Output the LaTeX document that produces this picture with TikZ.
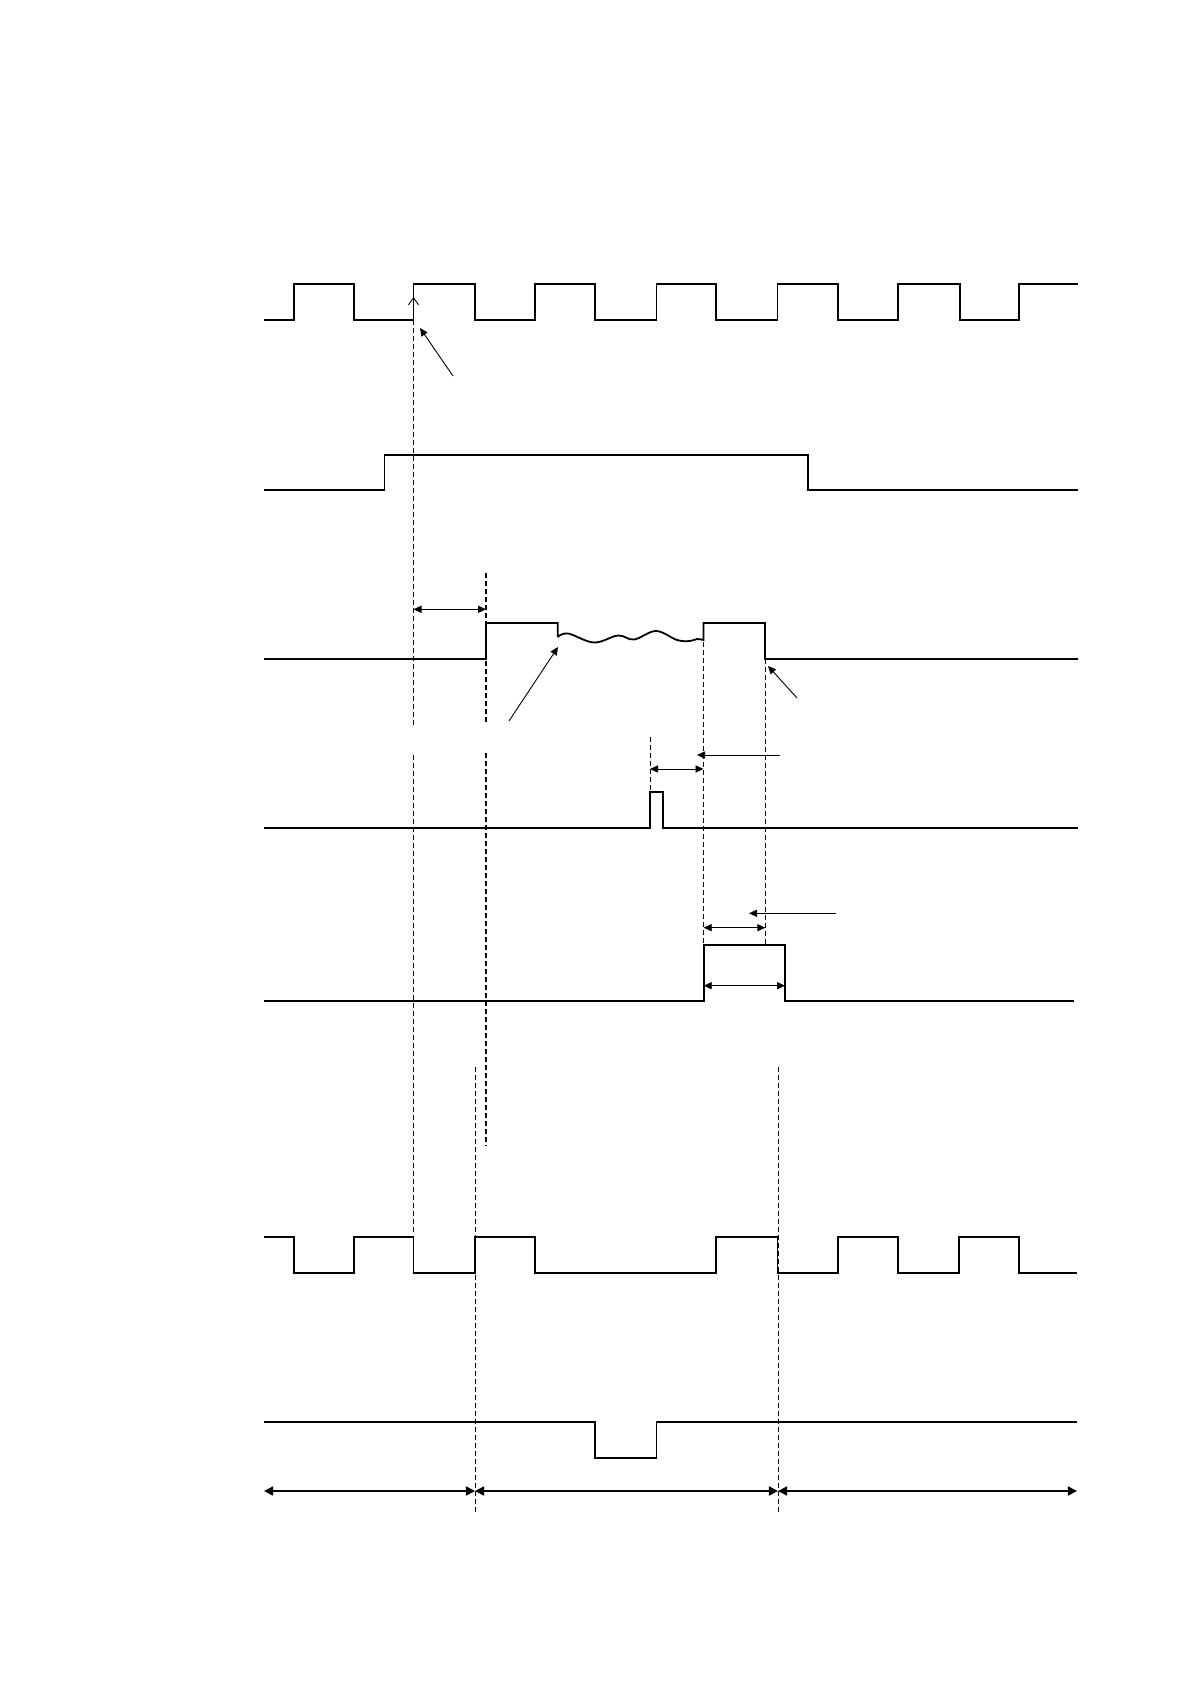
\documentclass[tikz,border=0pt]{standalone}
\usetikzlibrary{arrows.meta}

\begin{document}
\begin{tikzpicture}[x=0.5pt,y=-0.5pt,
    sig/.style={line width=0.9pt, line join=miter},
    guide/.style={line width=0.45pt, dash pattern=on 2.5pt off 1.5pt},
    guidebold/.style={line width=0.9pt, dash pattern=on 2.5pt off 1.5pt},
    dim/.style={line width=0.45pt, {Triangle[length=4pt,width=3.6pt]}-{Triangle[length=4pt,width=3.6pt]}},
    pointer/.style={line width=0.45pt, -{Triangle[length=4pt,width=3.6pt]}},
    span/.style={line width=0.8pt, {Triangle[length=4.6pt,width=4.6pt]}-{Triangle[length=4.6pt,width=4.6pt]}}]
    \useasboundingbox (0,0) rectangle (1190,1684);
    % upper clock
    \draw[sig] (264,320) -| (294,284) -| (354,320) -| (413.5,284) -| (475,320) -| (535,284)
        -| (595,320) -| (656.5,284) -| (716,320) -| (777.5,284) -| (838,320) -| (898,284)
        -| (960,320) -| (1019,284) -- (1078,284);
    \draw[line width=0.45pt, -{Straight Barb[length=3.5pt,width=5pt]}] (413.5,312) -- (413.5,297);
    \draw[pointer] (453,376) -- (420,328);
    % second signal
    \draw[sig] (264,490) -| (384.5,455) -| (808,490) -- (1078,490);
    % third signal with wavy part
    \draw[sig] (264,659) -| (486,623) -- (557.7,623) -- (557.7,637)
        plot[smooth, tension=0.6] coordinates {(557.7,637) (568,633.5) (594,642.5) (618,635.5)
        (634,639.5) (656,631) (677,640) (690,641) (697,639) (703.5,640)}
        |- (765,623) |- (1078,659);
    % fourth signal (short pulse)
    \draw[sig] (264,828) -| (650,792) -| (663,828) -- (1078,828);
    % fifth signal
    \draw[sig] (264,1001) -| (703.7,945) -| (785,1001) -- (1074,1001);
    % lower clock
    \draw[sig] (264,1237) -| (294,1273) -| (354,1237) -| (413.5,1273) -| (475,1237) -| (535,1273)
        -| (716,1237) -| (777.5,1273) -| (838,1237) -| (898,1273) -| (959,1237) -| (1019,1273)
        -- (1077,1273);
    % last signal
    \draw[sig] (264,1422) -| (595.3,1458) -| (656.5,1422) -- (1077,1422);

    % dashed guides
    \draw[guide] (413.5,320) -- (413.5,725);
    \draw[guide] (413.5,755) -- (413.5,1233);
    \draw[guidebold] (486,573) -- (486,723);
    \draw[guidebold] (486,753) -- (486,1146);
    \draw[guide] (475,1067) -- (475,1513);
    \draw[guide] (778,1067) -- (778,1513);
    \draw[guide] (650,737) -- (650,792);
    \draw[guide] (703.5,642) -- (703.5,945);
    \draw[guide] (765.3,659) -- (765.3,945);

    % arrows
    \draw[dim] (413.5,609.3) -- (486,609.3);
    \draw[pointer] (509,721) -- (558,647);
    \draw[pointer] (797,698) -- (768,666);
    \draw[dim] (650,769) -- (703.5,769);
    \draw[pointer] (780,755) -- (697,755);
    \draw[dim] (703.7,927.7) -- (765.3,927.7);
    \draw[pointer] (836,913.3) -- (749,913.3);
    \draw[dim] (703.7,985.7) -- (785,985.7);

    % bottom spans
    \draw[span] (264,1491) -- (475,1491);
    \draw[span] (475,1491) -- (778,1491);
    \draw[span] (778,1491) -- (1077,1491);
\end{tikzpicture}
\end{document}
